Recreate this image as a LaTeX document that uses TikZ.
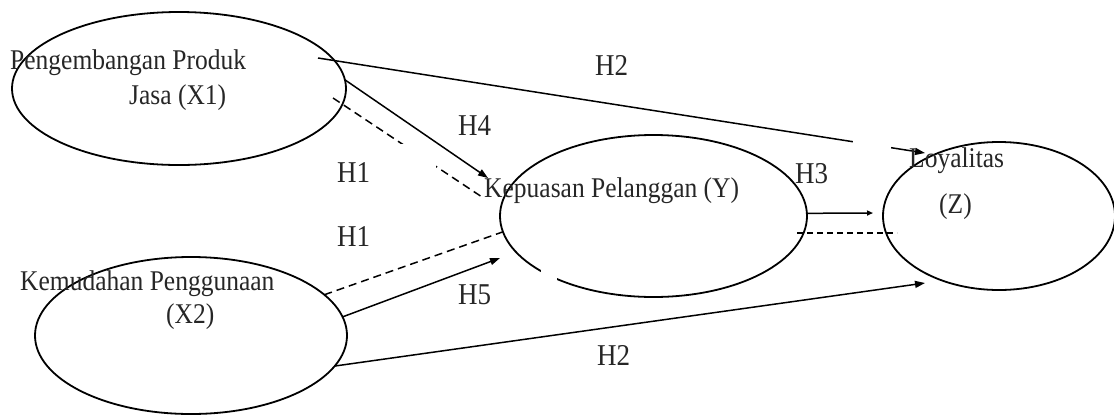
\documentclass[tikz,border=0pt]{standalone}
\usepackage{fontspec}
\setmainfont{Liberation Serif}
\usetikzlibrary{arrows.meta,shapes.geometric}
% slightly taller lettering
\newcommand\tall[1]{\scalebox{1}[1.12]{#1}}
\begin{document}
\begin{tikzpicture}[x=1pt,y=-1pt,
  latent/.style={draw=black, ellipse, line width=1.8pt, inner sep=0pt, outer sep=0pt},
  varname/.style={anchor=base west, inner sep=0pt, text=black!85, font=\fontsize{25.5}{30}\selectfont},
  hyp/.style={anchor=base west, inner sep=0pt, text=black!85, font=\fontsize{27}{32}\selectfont},
  effect/.style={line width=1.5pt, -{Triangle[length=10pt,width=7pt]}},
  smalleffect/.style={line width=1.5pt, -{Triangle[length=6pt,width=5pt]}},
  mediated/.style={line width=1.5pt, dash pattern=on 8pt off 5pt},
  shortdash/.style={line width=1.6pt, dash pattern=on 6pt off 4pt},
  cover/.style={fill=white, draw=none}]
\useasboundingbox (0,0) rectangle (1114,416);

% latent variables
\node[latent, minimum width=334pt, minimum height=153pt] (x1) at (179,88.5) {};
\node[latent, minimum width=312pt, minimum height=157pt] (x2) at (191,335.5) {};
\node[latent, minimum width=307pt, minimum height=162pt] (y)  at (653.5,216) {};
\node[latent, minimum width=232pt, minimum height=148pt] (z)  at (999,216) {};

% free ends of the paths
\coordinate (x1out)  at (318,58);
\coordinate (x1dash) at (333,98);
\coordinate (yin4)   at (488,178);
\coordinate (yin5)   at (500,258);
\coordinate (yin1)   at (482,197);
\coordinate (zin2a)  at (925,153);
\coordinate (zin2b)  at (925,283);
\coordinate (zin3)   at (873,213);
\coordinate (ydash)  at (797,233);
\coordinate (zdash)  at (897,233);

% direct and indirect paths
\draw[effect] (x1out) -- (zin2a);
\draw[effect] (x1.3) -- (yin4);
\draw[mediated] (x1dash) -- (yin1);
\draw[mediated] (x2.17) -- (y.186);
\draw[effect] (x2.7) -- (yin5);
\draw[effect] (x2.-12) -- (zin2b);
\draw[smalleffect] (y.1) -- (zin3);
\draw[shortdash] (ydash) -- (zdash);

% white label boxes covering parts of the lines
\fill[cover] (853,136) rectangle (891,150);
\fill[cover] (400,144) rectangle (436,170);
\fill[cover] (541,256) rectangle (557,300);

% variable names
\node[varname] (t1a) at (10,69)  {\tall{Pengembangan Produk}};
\node[varname] (t1b) at (129,104) {\tall{Jasa (X1)}};
\node[varname] (t2a) at (20,290) {\tall{Kemudahan Penggunaan}};
\node[varname] (t2b) at (166,323) {\tall{(X2)}};
\node[varname] (ty)  at (484,197) {\tall{Kepuasan Pelanggan (Y)}};
\node[varname] (tza) at (909,167) {\tall{Loyalitas}};
\node[varname] (tzb) at (939,213) {\tall{(Z)}};

% hypothesis labels
\node[hyp] (h2a) at (595,75)  {\tall{H2}};
\node[hyp] (h4)  at (458,135) {\tall{H4}};
\node[hyp] (h1a) at (337,182) {\tall{H1}};
\node[hyp] (h1b) at (337,246) {\tall{H1}};
\node[hyp] (h5)  at (458,304) {\tall{H5}};
\node[hyp] (h3)  at (795,183) {\tall{H3}};
\node[hyp] (h2b) at (597,365) {\tall{H2}};
\end{tikzpicture}
\end{document}
